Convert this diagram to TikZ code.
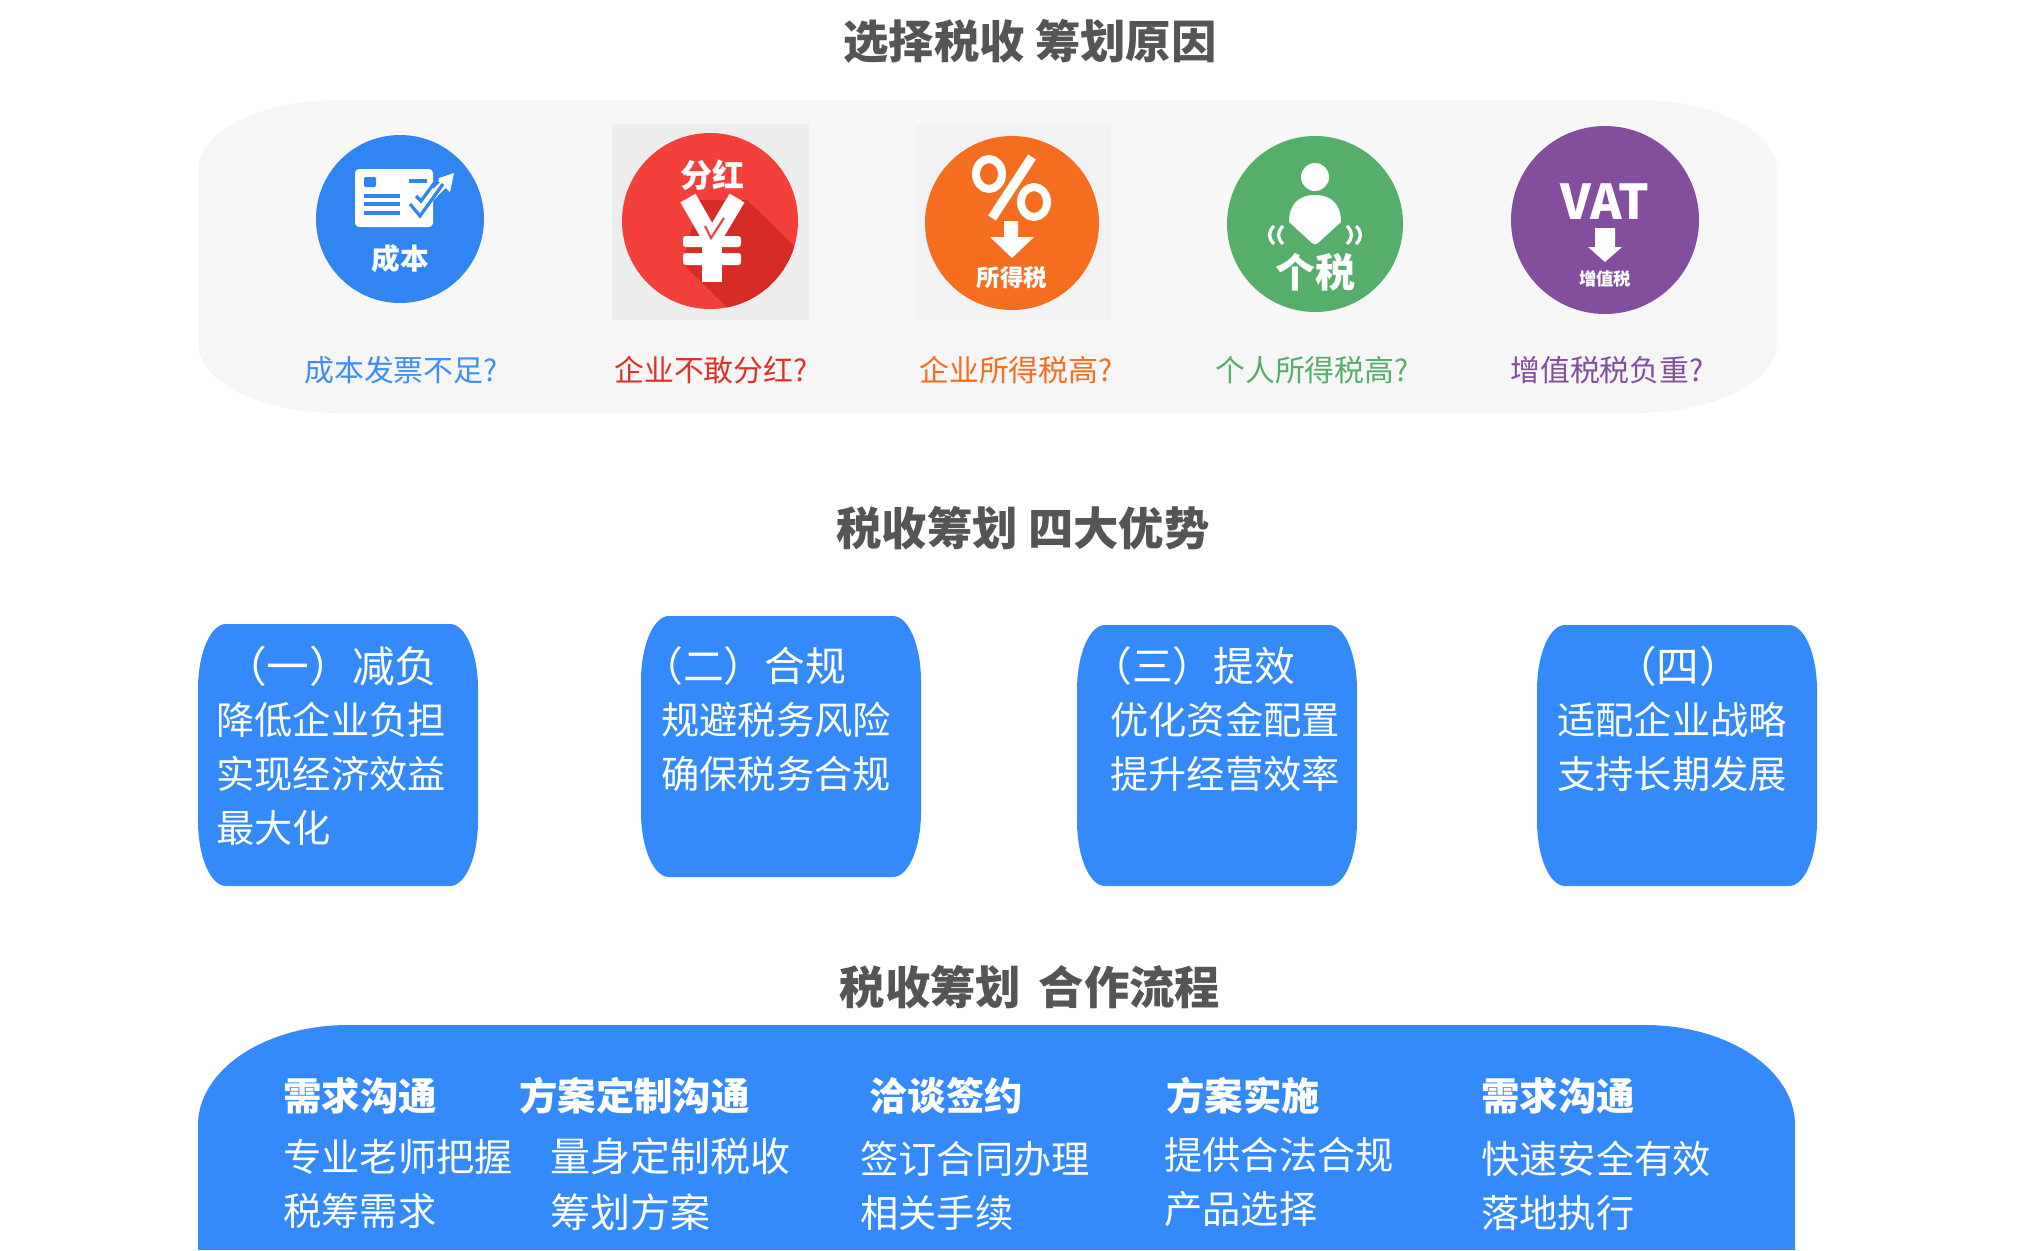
\documentclass[tikz,border=0pt]{standalone}
\usepackage{fontspec}
\usepackage{tikz}
\newfontfamily\cjk{Noto Sans CJK SC}
\definecolor{flowblue}{HTML}{348AFB}
\definecolor{iconblue}{HTML}{3085F2}
\definecolor{askblue}{HTML}{3D8FF5}
\definecolor{iconred}{HTML}{F4403B}
\definecolor{askred}{HTML}{E0302A}
\definecolor{shadered}{HTML}{D72B26}
\definecolor{iconorange}{HTML}{F56D1E}
\definecolor{icongreen}{HTML}{55AE6A}
\definecolor{iconpurple}{HTML}{844E9E}
\definecolor{titlegray}{HTML}{555555}
\definecolor{panelgray}{HTML}{F6F6F6}
\definecolor{tilefaint}{HTML}{F7F7F7}
\newcommand{\softrect}[7]{\fill [#7] (#1,{#2+#6}) arc (180:270:#5 and #6) -- ({#3-#5},#2) arc (270:360:#5 and #6) -- (#3,{#4-#6}) arc (0:90:#5 and #6) -- ({#1+#5},#4) arc (90:180:#5 and #6) -- cycle;}
\tikzset{
	titletext/.style={font=\cjk\bfseries\fontsize{34}{40}\selectfont,text=titlegray},
	asktext/.style={font=\cjk\fontsize{22.4}{26}\selectfont},
	boxtext/.style={font=\cjk\fontsize{28.7}{40.5}\selectfont,text=white,align=left,anchor=west},
	boxhead/.style={font=\cjk\fontsize{32}{36}\selectfont,text=white,anchor=west},
	boxheadtight/.style={font=\cjk\fontsize{30.6}{36}\selectfont,text=white,anchor=west},
	flowhead/.style={font=\cjk\bfseries\fontsize{28.8}{34}\selectfont,text=white,anchor=west},
	flowwide/.style={font=\cjk\fontsize{30}{42}\selectfont,text=white,align=left,anchor=west},
	icontext/.style={font=\cjk\bfseries,text=white},
}
\begin{document}
\begin{tikzpicture}[x=0.75pt,y=-0.75pt]
	\tikzstyle{every node}+=[inner sep=0pt]
	\useasboundingbox (0,0) rectangle (2020,1250);
	\node [titletext] (whytitle) at (1030,41) {选择税收 筹划原因};
	\node [titletext] (gaintitle) at (1023,528) {税收筹划 四大优势};
	\node [titletext] (flowtitle) at (1030,987) {税收筹划 \,合作流程};
	\softrect{198}{100}{1777}{413}{140}{70}{panelgray}
	% cost
	\fill [tilefaint] (304,125) rectangle (499,320);
	\fill [iconblue] (400,219) circle (84);
	\fill [white,rounded corners=3] (355,169) rectangle (433,227);
	\fill [iconblue,rounded corners=1] (364,177) rectangle (376,187);
	\draw [iconblue,line width=2.6] (364,196) -- (400,196);
	\draw [iconblue,line width=2.6] (364,204) -- (400,204);
	\draw [iconblue,line width=2.6] (364,213) -- (400,213);
	\draw [iconblue,line width=2.6] (409,181) -- (427,181);
	\draw [white,line width=6] (420,208) -- (447,181);
	\fill [white] (454,173) -- (436,179) -- (450,192) -- cycle;
	\draw [iconblue,line width=2.4] (410,204) -- (420,216) -- (443,184);
	\draw [iconblue,line width=2.4] (416,196) -- (421,201) -- (438,178);
	\node [icontext,font=\cjk\bfseries\fontsize{21.5}{26}\selectfont] (costicon) at (400,259) {成本};
	\node [asktext,text=askblue] (costask) at (401,370) {成本发票不足?};
	% dividend
	\fill [black!7] (612,124) rectangle (809,320);
	\fill [iconred] (710,221) circle (88);
	\begin{scope}
		\clip (710,221) circle (88);
		\fill [shadered] (747,200) -- (850,300) -- (760,340) -- (682,263) -- (700,200) -- cycle;
	\end{scope}
	\node [icontext,font=\cjk\bfseries\fontsize{24}{28}\selectfont] (bonusicon) at (712,175) {分红};
	\draw [white,line width=13] (688,198) -- (712,240);
	\draw [white,line width=13] (737,198) -- (712,240);
	\fill [white] (702,236) rectangle (722,282);
	\fill [white,rounded corners=2] (683,236) rectangle (741,247);
	\fill [white,rounded corners=2] (683,253) rectangle (741,265);
	\draw [iconred,line width=1.6] (705,226) -- (711,238) -- (724,218);
	\node [asktext,text=askred] (bonusask) at (711,370) {企业不敢分红?};
	% income tax
	\fill [black!5] (916,125) rectangle (1111,320);
	\fill [iconorange] (1012,223) circle (87);
	\draw [white,line width=6] (989,174) circle [x radius=13,y radius=15];
	\draw [white,line width=7] (1032,157) -- (992,218);
	\draw [white,line width=6] (1034,202) circle [x radius=13,y radius=15];
	\fill [white] (1004,221) -- (1018,221) -- (1018,237) -- (1034,237) -- (1012,258) -- (990,237) -- (1004,237) -- cycle;
	\node [icontext,font=\cjk\bfseries\fontsize{17.6}{21}\selectfont] (incomeicon) at (1012,278) {所得税};
	\node [asktext,text=iconorange] (incomeask) at (1016,370) {企业所得税高?};
	% personal tax
	\fill [tilefaint] (1216,125) rectangle (1412,323);
	\fill [icongreen] (1315,224) circle (88);
	\fill [white] (1315,177) circle [x radius=14,y radius=14];
	\fill [white] (1315,195) .. controls (1332,195) and (1341,205) .. (1341,222) -- (1318,243) .. controls (1316,245) and (1314,245) .. (1312,243) -- (1289,222) .. controls (1289,205) and (1298,195) .. (1315,195);
	\draw [white,line width=2.5] (1274,226) .. controls (1268,232) and (1268,238) .. (1274,244);
	\draw [white,line width=2.5] (1283,226) .. controls (1277,232) and (1277,238) .. (1283,244);
	\draw [white,line width=2.5] (1347,226) .. controls (1353,232) and (1353,238) .. (1347,244);
	\draw [white,line width=2.5] (1356,226) .. controls (1362,232) and (1362,238) .. (1356,244);
	\node [icontext,font=\cjk\bfseries\fontsize{30}{34}\selectfont] (personicon) at (1315,272) {个税};
	\node [asktext,text=icongreen] (personask) at (1312,370) {个人所得税高?};
	% value added tax
	\fill [tilefaint] (1511,125) rectangle (1699,313);
	\fill [iconpurple] (1605,220) circle (94);
	\node [icontext,font=\cjk\bfseries\fontsize{36}{42}\selectfont] (vaticon) at (1605,202) {VAT};
	\fill [white] (1595,228) -- (1615,228) -- (1615,247) -- (1622,247) -- (1605,262) -- (1588,247) -- (1595,247) -- cycle;
	\node [icontext,font=\cjk\bfseries\fontsize{13}{16}\selectfont] (vatsmall) at (1605,279) {增值税};
	\node [asktext,text=iconpurple] (vatask) at (1607,370) {增值税税负重?};
	% four boxes
	\softrect{198}{624}{478}{886}{28}{65}{flowblue}
	\softrect{641}{616}{921}{877}{28}{65}{flowblue}
	\softrect{1077}{625}{1357}{886}{28}{65}{flowblue}
	\softrect{1537}{625}{1817}{886}{28}{65}{flowblue}
	\node [boxhead] (onehead) at (224,666) {（一）减负};
	\node [boxtext] (onebody) at (216,774) {降低企业负担\\实现经济效益\\最大化};
	\node [boxheadtight] (twohead) at (642,666) {（二）合规};
	\node [boxtext] (twobody) at (661,747) {规避税务风险\\确保税务合规};
	\node [boxheadtight] (threehead) at (1091,666) {（三）提效};
	\node [boxtext] (threebody) at (1110,747) {优化资金配置\\提升经营效率};
	\node [boxhead] (fourhead) at (1614,666) {（四）};
	\node [boxtext] (fourbody) at (1557,747) {适配企业战略\\支持长期发展};
	% flow panel
	\fill [flowblue] (198,1250) -- (198,1125) arc (180:270:150 and 100) -- (1645,1025) arc (270:360:150 and 100) -- (1795,1250) -- cycle;
	\node [flowhead] (needhead) at (283,1096) {需求沟通};
	\node [flowhead] (planhead) at (519,1096) {方案定制沟通};
	\node [flowhead] (signhead) at (869,1096) {洽谈签约};
	\node [flowhead] (runhead) at (1166,1096) {方案实施};
	\node [flowhead] (landhead) at (1481,1096) {需求沟通};
	\node [boxtext] (needbody) at (283,1184) {专业老师把握\\税筹需求};
	\node [flowwide] (planbody) at (550,1184) {量身定制税收\\筹划方案};
	\node [boxtext] (signbody) at (860,1186) {签订合同办理\\相关手续};
	\node [boxtext] (runbody) at (1164,1182) {提供合法合规\\产品选择};
	\node [boxtext] (landbody) at (1481,1186) {快速安全有效\\落地执行};
\end{tikzpicture}
\end{document}
